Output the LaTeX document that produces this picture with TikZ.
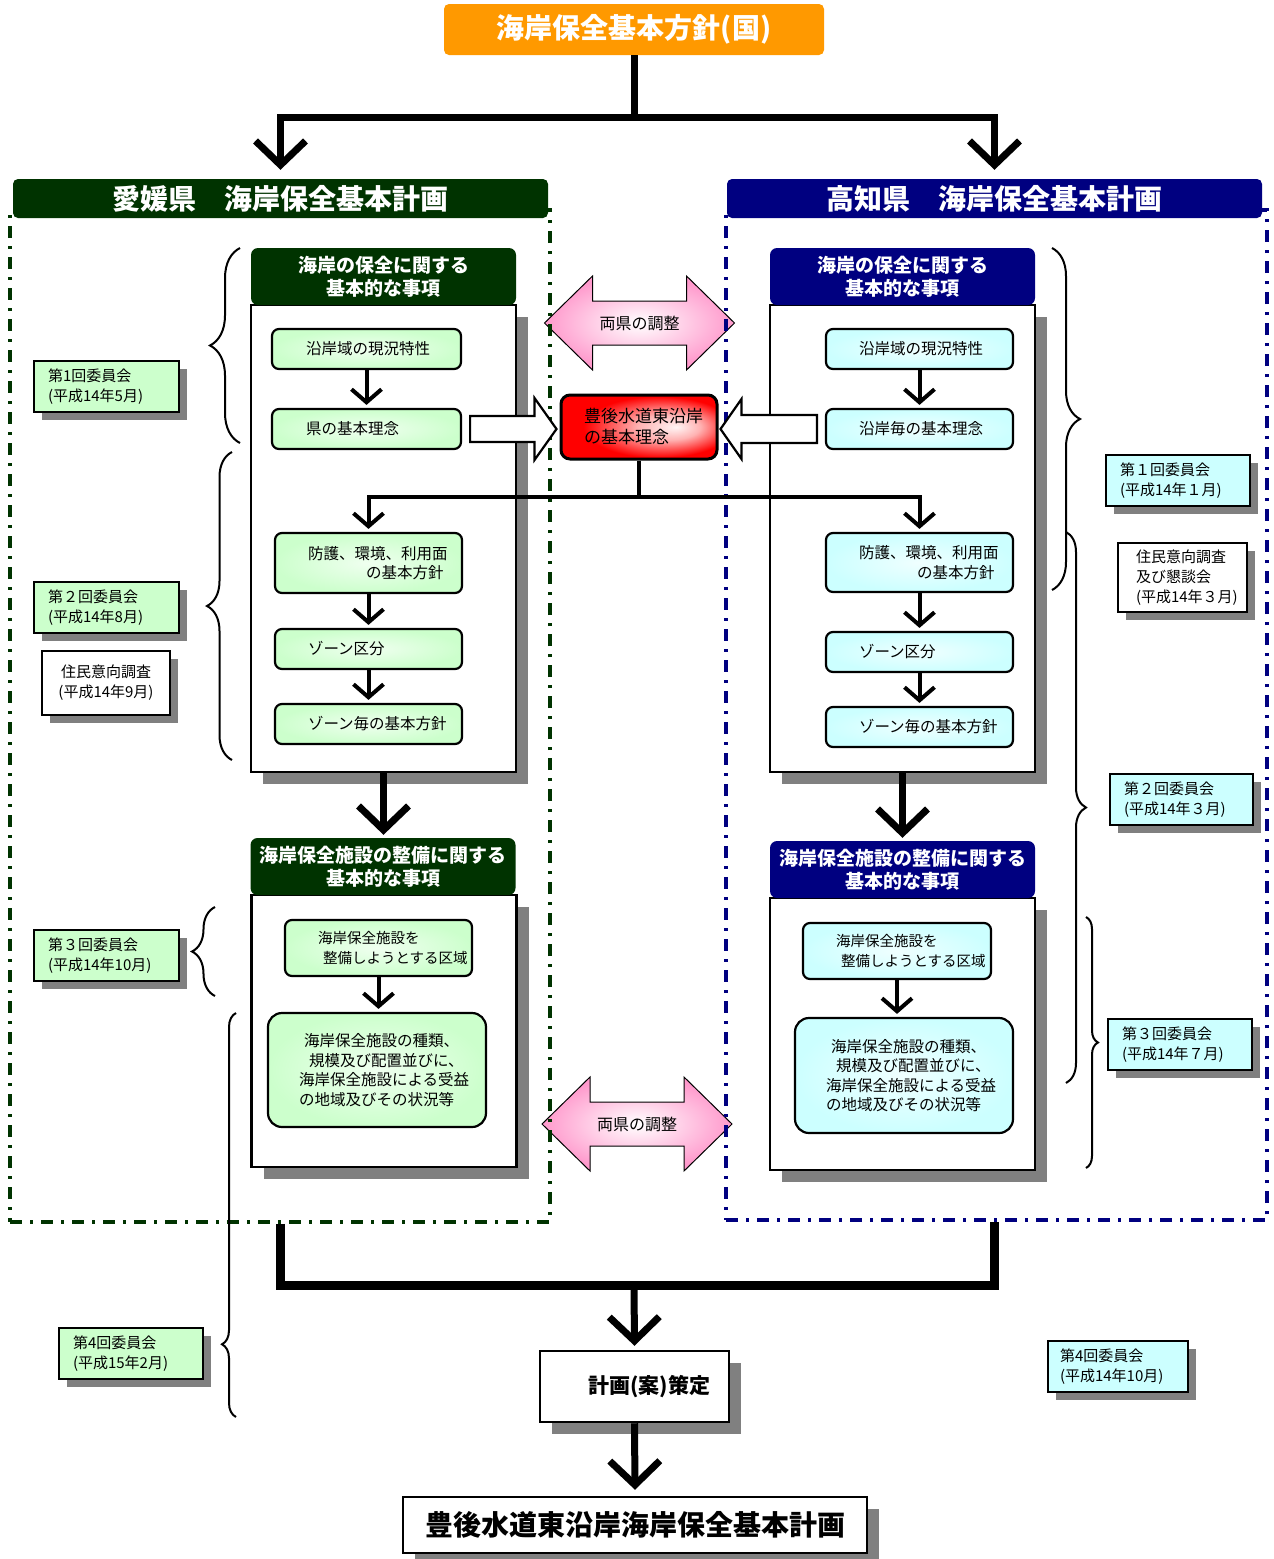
\documentclass[tikz,border=0pt]{standalone}
\usepackage{fontspec}
\setmainfont{Noto Sans CJK JP}
\usetikzlibrary{positioning,arrows.meta,shadows,calc,decorations.pathreplacing}

\definecolor{kuniorange}{HTML}{FF9900}
\definecolor{ehimegreen}{HTML}{003300}
\definecolor{kochinavy}{HTML}{000080}
\definecolor{palegreen}{HTML}{CCFFCC}
\definecolor{palecyan}{HTML}{CCFFFF}
\definecolor{shadowgray}{HTML}{808080}
\definecolor{chouseipink}{HTML}{FF99CC}

\pgfdeclareradialshading{rinenshade}{\pgfpoint{12bp}{0bp}}{%
  color(0bp)=(red!4!white); color(10bp)=(red!30!white); color(24bp)=(red); color(50bp)=(red)}

\tikzset{
  titlebar/.style={rounded corners=5pt, text=white, inner sep=0pt,
    font=\fontsize{28}{32}\selectfont\bfseries},
  headbar/.style={rounded corners=7pt, text=white, inner sep=0pt, align=center,
    minimum width=265, minimum height=57, font=\fontsize{19}{23}\selectfont\bfseries},
  kenframe/.style={draw, line width=3.5pt, dash pattern=on 12pt off 8pt on 3pt off 8pt},
  panelbody/.style={draw, line width=2.5pt, fill=white, minimum width=265,
    general shadow={fill=shadowgray, shadow xshift=12pt, shadow yshift=-12pt}},
  itembox/.style={draw, line width=2.2pt, rounded corners=7pt, inner sep=0pt, align=left,
    font=\fontsize{15.5}{19.5}\selectfont},
  ehitem/.style={itembox, inner color=palegreen!30!white, outer color=palegreen},
  koitem/.style={itembox, inner color=palecyan!30!white, outer color=palecyan},
  meetbox/.style={draw, line width=2.5pt, inner sep=0pt, align=left,
    font=\fontsize{15}{20}\selectfont,
    general shadow={fill=shadowgray, shadow xshift=8pt, shadow yshift=-8pt}},
  planbox/.style={draw, line width=2.5pt, fill=white, inner sep=0pt,
    general shadow={fill=shadowgray, shadow xshift=12pt, shadow yshift=-12pt}},
  blockarr/.style={draw, fill=white, line width=2.2pt},
  chousei/.style={draw, line width=1pt, inner color=white, outer color=chouseipink},
  arr/.style={line width=4pt, -{Straight Barb[length=13pt,width=30pt]}},
  bigarr/.style={line width=7pt, -{Straight Barb[length=24pt,width=50pt]}},
  brc/.style={decorate, decoration={brace, amplitude=#1}, line width=2pt}
}

\begin{document}
\begin{tikzpicture}[x=1pt,y=-1pt]
  \useasboundingbox (0,0) rectangle (1274,1559);

  % 両県の調整
  \coordinate (c1) at (639.5,323);
  \coordinate (c2) at (637,1124);
  \shadedraw[chousei] ($(c1)+(-95,0)$) -- ++(48,-47) -- ++(0,25) -- ++(94,0) -- ++(0,-25) -- ++(48,47)
    -- ++(-48,47) -- ++(0,-25) -- ++(-94,0) -- ++(0,25) -- cycle;
  \shadedraw[chousei] ($(c2)+(-95,0)$) -- ++(48,-47) -- ++(0,25) -- ++(94,0) -- ++(0,-25) -- ++(48,47)
    -- ++(-48,47) -- ++(0,-25) -- ++(-94,0) -- ++(0,25) -- cycle;
  \node[font=\fontsize{16}{18}\selectfont] (chosei1) at (c1) {両県の調整};
  \node[font=\fontsize{16}{18}\selectfont] (chosei2) at (c2) {両県の調整};

  % 国の方針
  \node[titlebar, fill=kuniorange, minimum width=380, minimum height=51] (kuni) at (634,29.5) {海岸保全基本方針(国)};

  % 県の枠とタイトル
  \node[kenframe, draw=ehimegreen, minimum width=540, minimum height=1012] (ehframe) at (280,716) {};
  \node[kenframe, draw=kochinavy, minimum width=541, minimum height=1010] (koframe) at (996.5,715) {};
  \node[titlebar, fill=ehimegreen, minimum width=535, minimum height=39] (ehtitle) at (280.5,198.5) {愛媛県　海岸保全基本計画};
  \node[titlebar, fill=kochinavy, minimum width=535, minimum height=39] (kotitle) at (994.5,198.5) {高知県　海岸保全基本計画};

  \draw[bigarr] (kuni.south) -- ++(0,62) -| ($(ehtitle.north)+(0,-9)$);
  \draw[bigarr] (kuni.south) -- ++(0,62) -| ($(kotitle.north)+(0,-9)$);

  % 愛媛県
  \node[panelbody, minimum height=467] (ehbody1) at (383.5,538.5) {};
  \node[headbar, fill=ehimegreen] (ehhead1) at (383.5,276.5) {海岸の保全に関する\\基本的な事項};
  \node[ehitem, minimum width=189, minimum height=40, text width=121] (e1) at (366.5,349) {沿岸域の現況特性};
  \node[ehitem, minimum width=189, minimum height=40, text width=121] (e2) at (366.5,429) {県の基本理念};
  \node[ehitem, minimum width=187, minimum height=60, text width=121] (e3) at (368.5,563) {防護、環境、利用面\\\hspace*{3.75em}の基本方針};
  \node[ehitem, minimum width=187, minimum height=40, text width=121] (e4) at (368.5,649) {ゾーン区分};
  \node[ehitem, minimum width=187, minimum height=40, text width=121] (e5) at (368.5,724) {ゾーン毎の基本方針};

  \node[panelbody, minimum height=272] (ehbody2) at (384,1031) {};
  \node[headbar, fill=ehimegreen] (ehhead2) at (383,866.5) {海岸保全施設の整備に関する\\基本的な事項};
  \node[ehitem, minimum width=187, minimum height=56, text width=121, font=\fontsize{14.5}{19.5}\selectfont] (e6) at (378.5,948) {海岸保全施設を\\\hspace*{0.35em}整備しようとする区域};
  \node[ehitem, rounded corners=14pt, minimum width=218, minimum height=114, text width=156] (e7) at (377,1070)
    {\hspace*{5pt}海岸保全施設の種類、\\\hspace*{10pt}規模及び配置並びに、\\海岸保全施設による受益\\の地域及びその状況等};

  % 高知県
  \node[panelbody, minimum height=467] (kobody1) at (902.5,538.5) {};
  \node[headbar, fill=kochinavy] (kohead1) at (902.5,276.5) {海岸の保全に関する\\基本的な事項};
  \node[koitem, minimum width=187, minimum height=40, text width=121] (k1) at (919.5,349) {沿岸域の現況特性};
  \node[koitem, minimum width=187, minimum height=40, text width=121] (k2) at (919.5,429) {沿岸毎の基本理念};
  \node[koitem, minimum width=187, minimum height=59, text width=121] (k3) at (919.5,562.5) {防護、環境、利用面\\\hspace*{3.75em}の基本方針};
  \node[koitem, minimum width=187, minimum height=40, text width=121] (k4) at (919.5,652) {ゾーン区分};
  \node[koitem, minimum width=187, minimum height=40, text width=121] (k5) at (919.5,727) {ゾーン毎の基本方針};

  \node[panelbody, minimum height=272] (kobody2) at (902.5,1034) {};
  \node[headbar, fill=kochinavy] (kohead2) at (902.5,869.5) {海岸保全施設の整備に関する\\基本的な事項};
  \node[koitem, minimum width=188, minimum height=56, text width=122, font=\fontsize{14.5}{19.5}\selectfont] (k6) at (897,951) {海岸保全施設を\\\hspace*{0.35em}整備しようとする区域};
  \node[koitem, rounded corners=14pt, minimum width=218, minimum height=115, text width=156] (k7) at (904,1075.5)
    {\hspace*{5pt}海岸保全施設の種類、\\\hspace*{10pt}規模及び配置並びに、\\海岸保全施設による受益\\の地域及びその状況等};

  \foreach \a/\b in {e1/e2,e3/e4,e4/e5,e6/e7,k1/k2,k3/k4,k4/k5,k6/k7}
    \draw[arr] (\a.south) -- ($(\a.south |- \b.north)+(0,-3)$);

  \draw[bigarr] (ehbody1.south) -- ($(ehbody1.south |- ehhead2.north)+(0,-3)$);
  \draw[bigarr] (kobody1.south) -- ($(kobody1.south |- kohead2.north)+(0,-3)$);

  % 豊後水道東沿岸の基本理念
  \node[draw, line width=3pt, rounded corners=9pt, shading=rinenshade,
    minimum width=156, minimum height=64, inner sep=0pt, text width=110, align=left,
    font=\fontsize{17}{21}\selectfont] (rinen) at (639,427) {豊後水道東沿岸\\の基本理念};

  \draw[blockarr] ($(e2.east)+(8,-13)$) -- ($(rinen.west |- e2.east)+(-25,-13)$) -- ($(rinen.west |- e2.east)+(-25,-31)$)
    -- ($(rinen.west |- e2.east)+(-3,0)$) -- ($(rinen.west |- e2.east)+(-25,31)$) -- ($(rinen.west |- e2.east)+(-25,13)$)
    -- ($(e2.east)+(8,13)$) -- cycle;
  \draw[blockarr] ($(k2.west)+(-8,-14)$) -- ($(rinen.east |- k2.west)+(23,-14)$) -- ($(rinen.east |- k2.west)+(23,-30)$)
    -- ($(rinen.east |- k2.west)+(2,0)$) -- ($(rinen.east |- k2.west)+(23,30)$) -- ($(rinen.east |- k2.west)+(23,14)$)
    -- ($(k2.west)+(-8,14)$) -- cycle;

  \draw[arr] (rinen.south) -- ++(0,36) -| ($(e3.north)+(0,-3)$);
  \draw[arr] (rinen.south) -- ++(0,36) -| ($(k3.north)+(0,-3)$);

  % 委員会など
  \node[meetbox, fill=palegreen, minimum width=145, minimum height=51, text width=117] (lm1) at (106.5,386.5) {第1回委員会\\(平成14年5月)};
  \node[meetbox, fill=palegreen, minimum width=145, minimum height=51, text width=117] (lm2) at (106.5,607.5) {第２回委員会\\(平成14年8月)};
  \node[meetbox, fill=white, minimum width=128, minimum height=64, align=center] (lres) at (106,683) {住民意向調査\\(平成14年9月)};
  \node[meetbox, fill=palegreen, minimum width=145, minimum height=51, text width=117] (lm3) at (106.5,955.5) {第３回委員会\\(平成14年10月)};
  \node[meetbox, fill=palegreen, minimum width=144, minimum height=51, text width=116] (lm4) at (131,1353.5) {第4回委員会\\(平成15年2月)};

  \node[meetbox, fill=palecyan, minimum width=144, minimum height=51, text width=116] (rm1) at (1178,480.5) {第１回委員会\\(平成14年１月)};
  \node[meetbox, fill=white, minimum width=129, minimum height=69, text width=93] (rres) at (1182.5,577.5) {住民意向調査\\及び懇談会\\(平成14年３月)};
  \node[meetbox, fill=palecyan, minimum width=143, minimum height=51, text width=115] (rm2) at (1181.5,799.5) {第２回委員会\\(平成14年３月)};
  \node[meetbox, fill=palecyan, minimum width=144, minimum height=51, text width=116] (rm3) at (1180,1044.5) {第３回委員会\\(平成14年７月)};
  \node[meetbox, fill=palecyan, minimum width=140, minimum height=51, text width=116] (rm4) at (1118,1366.5) {第4回委員会\\(平成14年10月)};

  % 括弧
  \draw[brc=30] (240,443) -- (240,248);
  \draw[brc=25] (232,760) -- (232,452);
  \draw[brc=23] (215,996) -- (215,907);
  \draw[brc=14, decoration={aspect=0.18}] (236,1417) -- (236,1013);
  \draw[brc=28] (1052,248) -- (1052,590);
  \draw[brc=20] (1066,532) -- (1066,1083);
  \draw[brc=12] (1086,917) -- (1086,1168);

  % 計画(案)策定
  \node[planbox, minimum width=189, minimum height=71, text width=151, align=right,
    font=\fontsize{21}{24}\selectfont\bfseries] (plan) at (634.5,1386.5) {計画(案)策定};
  \node[planbox, minimum width=464, minimum height=56,
    font=\fontsize{28}{32}\selectfont\bfseries] (final) at (635,1525) {豊後水道東沿岸海岸保全基本計画};

  \coordinate (merge) at (634,1285);
  \draw[line width=9pt] (ehtitle.center |- ehframe.south) |- (merge) -| (kotitle.center |- koframe.south);
  \draw[bigarr] (merge) -- ($(plan.north)+(0,-4)$);
  \draw[bigarr] (plan.south) -- ($(final.north)+(0,-6)$);
\end{tikzpicture}
\end{document}
